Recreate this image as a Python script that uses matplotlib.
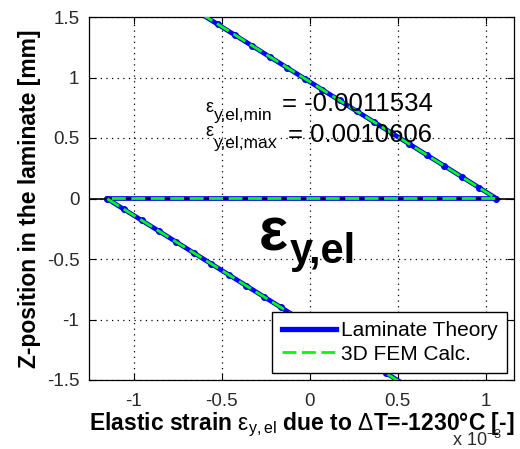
import matplotlib
matplotlib.use('Agg')
import matplotlib.pyplot as plt
from matplotlib.lines import Line2D

plt.rcParams['font.family'] = ['Liberation Sans', 'DejaVu Sans']
plt.rcParams['mathtext.fontset'] = 'custom'
plt.rcParams['mathtext.rm'] = 'Liberation Sans'
plt.rcParams['mathtext.it'] = 'Liberation Sans:italic'
plt.rcParams['mathtext.bf'] = 'Liberation Sans:bold'

# laminate theory, strain in 1e-3, z in mm (upper layer then lower layer)
z_lam = [1.53, 1.44, 1.35, 1.26, 1.17, 1.08, 0.99, 0.90, 0.81, 0.72, 0.63, 0.54,
         0.45, 0.36, 0.27, 0.18, 0.09, 0.0,
         0.0, -0.09, -0.18, -0.27, -0.36, -0.45, -0.54, -0.63, -0.72, -0.81,
         -0.90, -0.99, -1.08, -1.17, -1.26, -1.35, -1.44, -1.53]
strain_lam = [-0.622, -0.523, -0.424, -0.325, -0.226, -0.127, -0.028, 0.071, 0.170,
              0.269, 0.368, 0.467, 0.566, 0.665, 0.764, 0.863, 0.962, 1.061,
              -1.153, -1.054, -0.955, -0.856, -0.757, -0.658, -0.559, -0.460,
              -0.361, -0.262, -0.163, -0.064, 0.035, 0.134, 0.233, 0.332, 0.431, 0.530]

# 3D FEM
z_fem = [1.53, 0.0, 0.0, -1.53]
strain_fem = [-0.620, 1.060, -1.152, 0.528]

eps_min = -0.0011534
eps_max = 0.0010606

xticks = [-1, -0.5, 0, 0.5, 1]
yticks = [-1.5, -1, -0.5, 0, 0.5, 1, 1.5]

W, H = 520, 449
fig = plt.figure(figsize=(W / 100, H / 100), dpi=100)
ax = fig.add_axes([89 / W, 69 / H, 425 / W, 363 / H])


def ftext(px, py, s, **kw):
    # place text using pixel coords of the figure (y from top)
    return fig.text(px / W, 1 - py / H, s, **kw)


ax.plot(strain_lam, z_lam, color='#0000ff', lw=3.4, marker='.', ms=8, zorder=2)
ax.axhline(0, color='black', lw=1.2, zorder=2.5)
ax.plot(strain_fem, z_fem, color='#00ff00', lw=2.0, dashes=(5, 2), zorder=3)

ax.set_xlim(eps_min * 1000 - 0.1, eps_max * 1000 + 0.1)
ax.set_ylim(-1.5, 1.5)
ax.set_xticks(xticks)
ax.set_xticklabels(['-1', '-0.5', '0', '0.5', '1'])
ax.set_yticks(yticks)
ax.set_yticklabels(['-1.5', '-1', '-0.5', '0', '0.5', '1', '1.5'])
ax.tick_params(direction='in', top=True, right=True, length=5, width=0.8,
               labelsize=13.5, colors='black', labelcolor='#2a2a2a')
ax.tick_params(axis='x', pad=9)
ax.tick_params(axis='y', pad=7)
ax.grid(True, color='black', lw=0.9, dashes=(1, 3.5))
for sp in ax.spines.values():
    sp.set_linewidth(0.9)

ax.set_xlabel(r'Elastic strain $\mathrm{\varepsilon}_{\mathrm{y,el}}$ due to $\mathrm{\Delta}$T=-1230°C [-]',
              fontsize=16.5, fontweight='bold', labelpad=1)
ax.set_ylabel('Z-position in the laminate [mm]', fontsize=16.5, fontweight='bold',
              labelpad=4)

ftext(452, 446, r'x 10$^{\mathrm{-3}}$', fontsize=13, color='#2a2a2a')

# min / max annotations
ftext(205, 112, 'ε', fontsize=13)
ftext(214, 120, 'y,el,min', fontsize=12.5)
ftext(282, 111, '= %.7f' % eps_min, fontsize=18.5)
ftext(205, 136, 'ε', fontsize=13)
ftext(214, 148, 'y,el,max', fontsize=12.5)
ftext(288, 142, '= %.7f' % eps_max, fontsize=18.5)

# big label
ftext(259, 251, 'ε', fontsize=44, fontweight='bold')
ftext(290, 263, 'y,el', fontsize=30, fontweight='bold')

handles = [Line2D([], [], color='#0000ff', lw=3.8),
           Line2D([], [], color='#00ff00', lw=2.0, dashes=(5, 2))]
leg = ax.legend(handles, ['Laminate Theory', '3D FEM Calc.'],
                loc='lower right', bbox_to_anchor=(507 / W, 1 - 373 / H),
                bbox_transform=fig.transFigure, borderaxespad=0, fontsize=15,
                fancybox=False, edgecolor='black', framealpha=1,
                handlelength=2.6, handletextpad=0.25, labelspacing=0.2,
                borderpad=0.45)
leg.get_frame().set_linewidth(1.0)

fig.savefig('out.png', dpi=100)
